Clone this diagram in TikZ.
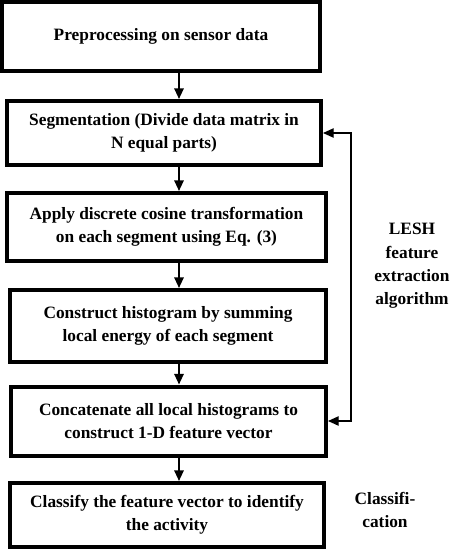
\documentclass[tikz,border=0pt]{standalone}
\usepackage{fontspec}
\setmainfont{Liberation Serif}
\usetikzlibrary{arrows.meta}

\begin{document}
\begin{tikzpicture}[x=0.75pt,y=-0.75pt,
  stepbox/.style={draw, line width=3pt, inner sep=0pt, align=center,
    font=\fontsize{13}{17.25}\selectfont\bfseries},
  flow/.style={line width=1.5pt, -{Triangle[width=7pt,length=8pt]}},
  loopback/.style={line width=1pt, {Triangle[width=7pt,length=8pt]}-{Triangle[width=7pt,length=8pt]}},
  side/.style={align=center, font=\fontsize{13}{17.5}\selectfont\bfseries}]

\useasboundingbox (0,0) rectangle (474,550);

\coordinate (ax) at (179,0);
\coordinate (fb) at (351,0);

\node [stepbox, minimum width=238.5pt, minimum height=51.75pt] (b1) at (161,36.5)
  {Preprocessing on sensor data};
\node [stepbox, minimum width=235.5pt, minimum height=48pt] (b2) at (164,133)
  {Segmentation (Divide data matrix in\\N equal parts)};
\node [stepbox, minimum width=239.25pt, minimum height=51pt] (b3) at (166.5,227)
  {Apply discrete cosine transformation\\on each segment using Eq. (3)};
\node [stepbox, minimum width=237pt, minimum height=54pt] (b4) at (168,326)
  {Construct histogram by summing\\local energy of each segment};
\node [stepbox, minimum width=236.25pt, minimum height=51.75pt] (b5) at (168.5,421)
  {Concatenate all local histograms to\\construct 1-D feature vector};
\node [stepbox, minimum width=235.5pt, minimum height=48pt] (b6) at (167,515)
  {Classify the feature vector to identify\\the activity};

\foreach \a/\b in {b1/b2,b2/b3,b3/b4,b4/b5,b5/b6}
    \draw [flow] (\a.south -| ax) -- (\b.north -| ax);

\draw [loopback] (b2.east) -- (b2.east -| fb) -- (b5.east -| fb) -- (b5.east);

\node [side] (lesh) at (412,266) {LESH\\feature\\extraction\\algorithm};
\node [side] (cls) at (385,510) {Classifi-\\cation};

\end{tikzpicture}
\end{document}
